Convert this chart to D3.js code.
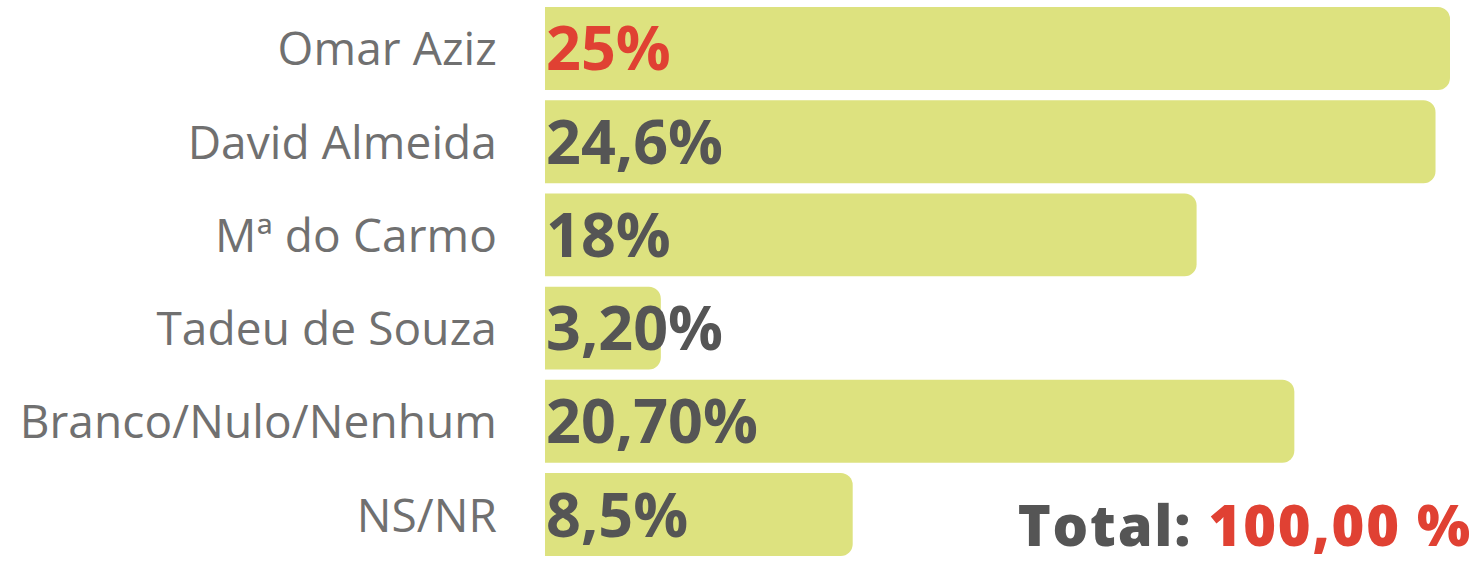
<!DOCTYPE html>
<html>
<head>
    <meta charset="utf-8">
    <style>
        body {
            margin: 0;
            background: #fff;
        }
        svg {
            display: block;
        }
        .label {
            font-family: 'Open Sans', sans-serif;
            fill: #707070;
        }
        .value {
            font-family: 'Open Sans', sans-serif;
            font-weight: 700;
        }
    </style>
</head>
<body>
    <svg width="1480" height="562"></svg>

<script src="https://d3js.org/d3.v7.min.js"></script>
<script>
    // data
    let names = ["Omar Aziz", "David Almeida", "Mª do Carmo", "Tadeu de Souza", "Branco/Nulo/Nenhum", "NS/NR"]
    let values = [25, 24.6, 18, 3.2, 20.7, 8.5]
    let valueLabels = ["25%", "24,6%", "18%", "3,20%", "20,70%", "8,5%"]
    let totalLabel = "100,00 %"

    let width = 1480
    let height = 562
    let left = 545

    let svg = d3.select("svg")

    let x = d3.scaleLinear()
        .domain([0, 25])
        .range([0, 905])

    let y = d3.scaleBand()
        .domain(names)
        .range([7, 556])
        .paddingInner(0.11)
        .paddingOuter(0)

    // bar with rounded right corners only
    function barPath(w, h, r) {
        r = Math.min(r, w / 2, h / 2)
        return "M0,0H" + (w - r) +
            "A" + r + "," + r + " 0 0 1 " + w + "," + r +
            "V" + (h - r) +
            "A" + r + "," + r + " 0 0 1 " + (w - r) + "," + h +
            "H0Z"
    }

    let rows = svg.selectAll(".row")
        .data(names)
        .join("g")
        .attr("class", "row")
        .attr("transform", d => "translate(0," + y(d) + ")")

    rows.append("path")
        .attr("transform", "translate(" + left + ",0)")
        .attr("d", (d, i) => barPath(x(values[i]), y.bandwidth(), 12))
        .style("fill", "#dde27f")

    rows.append("text")
        .attr("class", "label")
        .attr("x", 497)
        .attr("y", y.bandwidth() / 2 + 17)
        .attr("text-anchor", "end")
        .style("font-size", "46px")
        .style("letter-spacing", "0.1px")
        .text(d => d)

    rows.append("text")
        .attr("class", "value")
        .attr("x", left + 1)
        .attr("y", y.bandwidth() / 2 + 22)
        .style("font-size", "61px")
        .style("fill", (d, i) => i == 0 ? "#e04133" : "#555555")
        .text((d, i) => valueLabels[i])

    // total
    let total = svg.append("text")
        .attr("class", "value")
        .attr("x", 1472)
        .attr("y", 546)
        .attr("text-anchor", "end")
        .style("font-size", "56px")
        .style("font-weight", 800)
        .style("letter-spacing", "1.8px")

    total.append("tspan")
        .style("fill", "#555555")
        .text("Total: ")

    total.append("tspan")
        .style("fill", "#e04133")
        .text(totalLabel)
</script>
</body>
</html>
